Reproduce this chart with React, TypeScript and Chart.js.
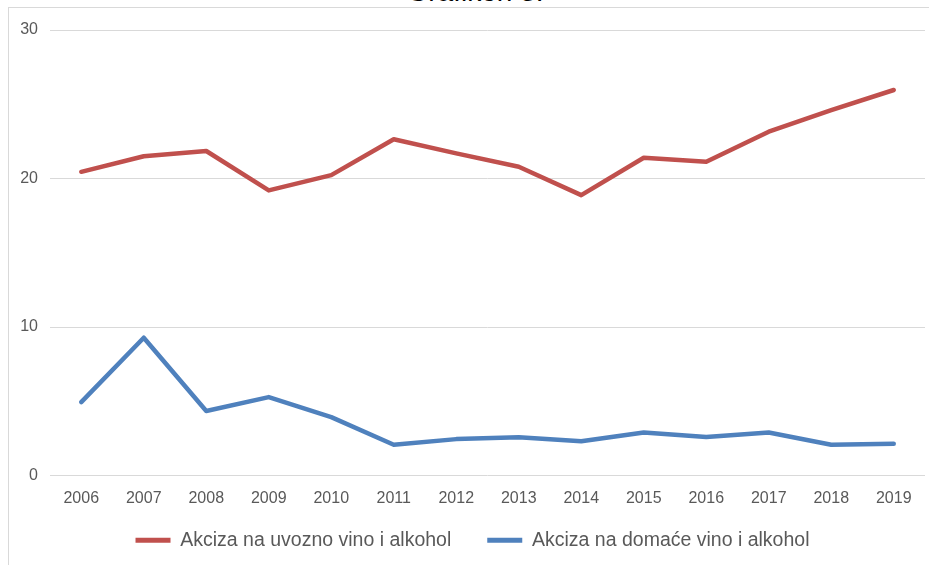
import React, { useEffect, useRef } from "react";
import { Chart, registerables } from "chart.js";

Chart.register(...registerables);

const years = ["2006", "2007", "2008", "2009", "2010", "2011", "2012", "2013", "2014", "2015", "2016", "2017", "2018", "2019"];
const importedExcise = [20.45, 21.5, 21.85, 19.2, 20.23, 22.64, 21.69, 20.79, 18.88, 21.4, 21.13, 23.15, 24.6, 25.96];
const domesticExcise = [4.94, 9.28, 4.34, 5.28, 3.93, 2.07, 2.45, 2.58, 2.31, 2.9, 2.6, 2.9, 2.07, 2.14];
const seriesNames = ["Akciza na uvozno vino i alkohol", "Akciza na domaće vino i alkohol"];
const yTicks = [0, 10, 20, 30];
const titleText = "Grafikon 3.";

const RED = "#C0504D";
const BLUE = "#4F81BD";
const TEXT = "#595959";
const GRID = "#d9d9d9";
const FONT = "'Liberation Sans', Arial, sans-serif";

export default function App() {
  const ref = useRef<HTMLCanvasElement | null>(null);

  useEffect(() => {
    if (!ref.current) return;
    const chart = new Chart(ref.current, {
      type: "line",
      data: {
        labels: years,
        datasets: [
          {
            label: seriesNames[0],
            data: importedExcise,
            borderColor: RED,
            backgroundColor: RED,
            borderWidth: 4.5,
            pointRadius: 0,
            tension: 0,
            borderCapStyle: "round",
            borderJoinStyle: "round",
          },
          {
            label: seriesNames[1],
            data: domesticExcise,
            borderColor: BLUE,
            backgroundColor: BLUE,
            borderWidth: 4.5,
            pointRadius: 0,
            tension: 0,
            borderCapStyle: "round",
            borderJoinStyle: "round",
          },
        ],
      },
      options: {
        responsive: false,
        animation: false,
        devicePixelRatio: 1,
        layout: { padding: { left: 20, right: 8, top: 30, bottom: 5 } },
        scales: {
          x: {
            type: "category",
            offset: true,
            grid: { display: false, drawTicks: false },
            border: { display: false },
            ticks: {
              color: TEXT,
              font: { family: FONT, size: 16 },
              mirror: true,
              padding: -33,
              maxRotation: 0,
              autoSkip: false,
            },
            afterFit: (s: any) => {
              s.height = 19;
            },
          },
          y: {
            min: yTicks[0],
            max: yTicks[yTicks.length - 1],
            afterBuildTicks: (s: any) => {
              s.ticks = yTicks.map((v) => ({ value: v }));
            },
            grid: { color: GRID, lineWidth: 1, drawTicks: false },
            border: { display: false },
            ticks: {
              color: TEXT,
              font: { family: FONT, size: 16 },
              padding: 12,
            },
            afterFit: (s: any) => {
              s.width = 30;
            },
          },
        },
        plugins: {
          title: { display: false },
          tooltip: { enabled: false },
          legend: {
            display: true,
            position: "bottom",
            maxHeight: 70,
            labels: {
              boxWidth: 35,
              boxHeight: 5,
              padding: 36,
              color: TEXT,
              font: { family: FONT, size: 19.5 },
              generateLabels: (c: any) =>
                Chart.defaults.plugins.legend.labels.generateLabels(c).map((l: any) => ({
                  ...l,
                  lineWidth: 0,
                  fillStyle: l.strokeStyle,
                })),
            },
          },
        },
      },
    });
    return () => chart.destroy();
  }, []);

  return (
    <div style={{ position: "absolute", left: 0, top: 0, width: 933, height: 565, overflow: "hidden", background: "#fff" }}>
      <div
        style={{
          position: "absolute",
          left: 8,
          top: 7,
          width: 920,
          height: 600,
          borderTop: "1px solid " + GRID,
          borderLeft: "1px solid " + GRID,
        }}
      />
      <div
        style={{
          position: "absolute",
          left: 375,
          top: -22,
          width: 200,
          textAlign: "center",
          fontFamily: FONT,
          fontSize: 28,
          lineHeight: "28px",
          color: "#000",
          whiteSpace: "nowrap",
        }}
      >
        {titleText}
      </div>
      <canvas ref={ref} width={933} height={565} style={{ position: "absolute", left: 0, top: 0, width: 933, height: 565 }} />
    </div>
  );
}
